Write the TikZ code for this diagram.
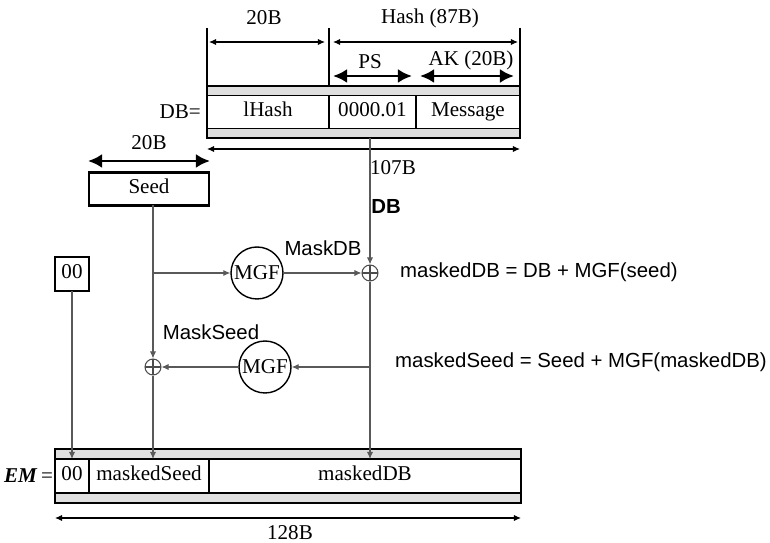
\documentclass[tikz,border=0pt]{standalone}
\usepackage{fontspec}
\setmainfont{Liberation Serif}
\setsansfont{Liberation Sans}
\usetikzlibrary{arrows.meta, positioning}

\begin{document}
\begin{tikzpicture}[x=0.02cm, y=-0.02cm, >={Latex[length=4pt,width=3.5pt]},
  cell/.style={draw, line width=1pt, outer sep=0pt, minimum height=0.66cm, inner sep=0pt,
    text height=1.6ex, text depth=0.4ex, font=\fontsize{12}{14}\selectfont},
  strip/.style={fill=gray!25},
  dim/.style={<->, line width=0.6pt},
  bigdim/.style={{Latex[length=8pt,width=8pt]}-{Latex[length=8pt,width=8pt]}, line width=1.6pt},
  lbl/.style={font=\fontsize{12}{14}\selectfont},
  note/.style={font=\sffamily\fontsize{11.6}{14}\selectfont},
  wire/.style={draw=black!65, line width=0.6pt},
  mgf/.style={circle, draw, line width=0.8pt, minimum size=1.04cm, inner sep=0pt, font=\fontsize{12}{14}\selectfont},
  xor/.style={circle, draw=black!70, line width=0.6pt, minimum size=0.32cm, inner sep=0pt,
    path picture={\draw[black!70, line width=0.6pt] (path picture bounding box.north) -- (path picture bounding box.south)
      (path picture bounding box.west) -- (path picture bounding box.east);}}]
  \useasboundingbox (0,0) rectangle (770,543);

  % ---- DB block ----
  \fill[strip] (207,86) rectangle (520,138);
  \node[cell, fill=white, minimum width=2.44cm] (lhash) at (268,112) {lHash};
  \node[cell, fill=white, minimum width=1.74cm, right=0pt of lhash] (ps) {0000.01};
  \node[cell, fill=white, minimum width=2.08cm, right=0pt of ps] (msg) {Message};
  \draw[line width=1pt] (207,86) rectangle (520,138);
  \node[lbl, left=0pt of lhash] (dbeq) {DB=};

  % ---- DB lengths ----
  \draw[line width=0.6pt] (207,28) -- (207,86) (329,28) -- (329,86) (520,28) -- (520,86);
  \draw[dim] (209,42) -- (325,42);
  \draw[dim] (333,42) -- (518,42);
  \node[lbl] (len20) at (264,18) {20B};
  \node[lbl] (lenhash) at (430,18) {Hash (87B)};
  \draw[bigdim] (333,76) -- (412,76);
  \draw[bigdim] (420,76) -- (514,76);
  \node[lbl] (lenps) at (370,62) {PS};
  \node[lbl] (lenak) at (471,60) {AK (20B)};
  \draw[dim] (207,149) -- (520,149);
  \node[lbl] (len107) at (393,168) {107B};

  % ---- Seed and 00 ----
  \node[cell, line width=1.6pt, minimum width=2.4cm] (seed) at (149,189) {Seed};
  \draw[bigdim] (88,161) -- (210,161);
  \node[lbl] (lenseed) at (149,143) {20B};
  \node[cell, line width=1.6pt, minimum width=0.68cm, minimum height=0.68cm] (zero) at (72,274) {00};

  % ---- EM block ----
  \fill[strip] (55,449) rectangle (521,503);
  \node[cell, fill=white, minimum width=0.68cm, minimum height=0.68cm] (em00) at (72,476) {00};
  \node[cell, fill=white, minimum width=2.4cm, minimum height=0.68cm, right=0pt of em00] (emseed) {maskedSeed};
  \node[cell, fill=white, minimum width=6.24cm, minimum height=0.68cm, right=0pt of emseed] (emdb) {maskedDB};
  \draw[line width=1pt] (55,449) rectangle (521,503);
  \node[lbl, left=0pt of em00, inner sep=1pt] (emeq) {\textbf{\textit{EM}}\,=};
  \draw[dim] (55,518) -- (521,518);
  \node[lbl] (len128) at (290,533) {128B};

  % ---- Masking ----
  \node[mgf] (mgf1) at (257,273) {MGF};
  \node[mgf] (mgf2) at (265,367) {MGF};
  \node[xor] (xor1) at (370,273) {};
  \node[xor] (xor2) at (153,367) {};
  \coordinate (dbout) at (370,138);

  \draw[wire, ->] (dbout) -- (xor1);
  \draw[wire, ->] (xor1) -- (xor1 |- emdb.north);
  \draw[wire, ->] (xor2 |- seed.south) -- (xor2);
  \draw[wire, ->] (xor2) -- (xor2 |- emseed.north);
  \draw[wire, ->] (xor2 |- mgf1) -- (mgf1);
  \draw[wire, ->] (mgf1) -- (xor1);
  \draw[wire, ->] (xor1 |- mgf2) -- (mgf2);
  \draw[wire, ->] (mgf2) -- (xor2);
  \draw[wire, ->] (zero) -- (zero |- em00.north);

  % ---- Labels ----
  \node[note, font=\sffamily\bfseries\fontsize{11.6}{14}\selectfont] (dblabel) at (386,206) {DB};
  \node[note] (maskdb) at (323,248) {MaskDB};
  \node[note] (maskseed) at (211,332) {MaskSeed};
  \node[note, anchor=west] (eq1) at (394,272) {maskedDB = DB + MGF(seed)};
  \node[note, anchor=west] (eq2) at (389,362) {maskedSeed = Seed + MGF(maskedDB)};
\end{tikzpicture}
\end{document}
